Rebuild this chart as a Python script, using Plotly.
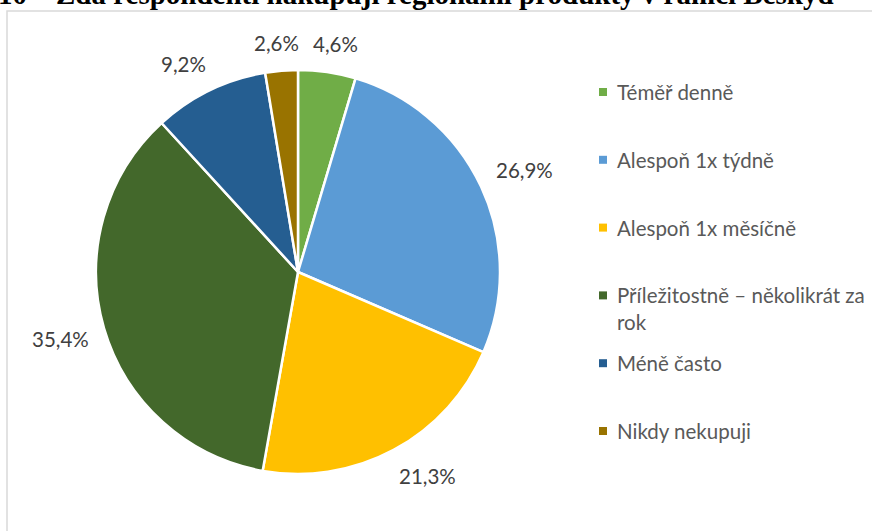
import math
import plotly.graph_objects as go

# Survey answers: how often respondents buy regional products (share of respondents, %)
categories = [
    "Téměř denně",
    "Alespoň 1x týdně",
    "Alespoň 1x měsíčně",
    "Příležitostně – několikrát za rok",
    "Méně často",
    "Nikdy nekupuji",
]
shares = [4.6, 26.9, 21.3, 35.4, 9.2, 2.6]
colors = ["#70AD47", "#5B9BD5", "#FFC000", "#43682B", "#255E91", "#997300"]
legend_labels = [
    "Téměř denně",
    "Alespoň 1x týdně",
    "Alespoň 1x měsíčně",
    "Příležitostně – několikrát za<br>rok",
    "Méně často",
    "Nikdy nekupuji",
]
title_text = "10 – Zda respondenti nakupují regionální produkty v rámci Beskyd"

W, H = 872, 531
FONT = "Lato"
FS = 20.5


def px_x(p):
    return p / W


def px_y(p):
    return 1 - p / H


cx, cy, r = 298, 272, 202

fig = go.Figure(
    go.Pie(
        labels=categories,
        values=shares,
        sort=False,
        direction="clockwise",
        rotation=0,
        marker=dict(colors=colors, line=dict(color="white", width=2.5)),
        textinfo="none",
        showlegend=False,
        hoverinfo="label+percent",
        domain=dict(x=[px_x(cx - r), px_x(cx + r)], y=[px_y(cy + r), px_y(cy - r)]),
    )
)

shapes = [
    # chart frame
    dict(
        type="rect", xref="paper", yref="paper",
        x0=px_x(7), x1=px_x(W + 20), y0=px_y(H + 20), y1=px_y(11),
        line=dict(color="#D9D9D9", width=1.5), fillcolor="rgba(0,0,0,0)", layer="below",
    )
]
annotations = [
    dict(
        text=f"<b>{title_text}</b>", xref="paper", yref="paper",
        x=px_x(836), y=px_y(12), xanchor="right", yanchor="bottom",
        showarrow=False, font=dict(family="Liberation Serif", size=29, color="black"),
    )
]

# outside-end data labels: anchored at each slice's mid-angle just outside the rim
total = sum(shares)
cum = 0.0
label_r = r + 18
for v in shares:
    theta = 2 * math.pi * (cum + v / 2) / total
    cum += v
    s, c = math.sin(theta), math.cos(theta)
    txt = f"{v:.1f}%".replace(".", ",")
    hw = 0.5 * len(txt) * 0.52 * FS
    hh = 10
    clip = lambda t: max(-1.0, min(1.0, 2 * t))
    lx = cx + label_r * s + hw * clip(s)
    ly = cy - label_r * c - hh * clip(c)
    annotations.append(dict(
        text=txt, xref="paper", yref="paper", x=px_x(lx), y=px_y(ly),
        xanchor="center", yanchor="middle", showarrow=False,
        font=dict(family=FONT, size=FS, color="#404040"),
    ))

# legend entries on the right side
leg_x, leg_y0, leg_step, sq = 599, 92, 67.8, 8
for i, (lab, col) in enumerate(zip(legend_labels, colors)):
    y = leg_y0 + i * leg_step
    shapes.append(dict(
        type="rect", xref="paper", yref="paper",
        x0=px_x(leg_x), x1=px_x(leg_x + sq), y0=px_y(y + sq / 2), y1=px_y(y - sq / 2),
        fillcolor=col, line=dict(width=0),
    ))
    multiline = "<br>" in lab
    annotations.append(dict(
        text=lab, xref="paper", yref="paper", x=px_x(leg_x + 16), y=px_y(y),
        xanchor="left", yanchor="top" if multiline else "middle",
        yshift=14 if multiline else 0,
        align="left", showarrow=False,
        font=dict(family=FONT, size=FS, color="#595959"),
    ))

fig.update_layout(
    width=W, height=H,
    margin=dict(l=0, r=0, t=0, b=0),
    paper_bgcolor="white",
    plot_bgcolor="white",
    separators=", ",
    shapes=shapes,
    annotations=annotations,
)

fig.write_html("out.html")
